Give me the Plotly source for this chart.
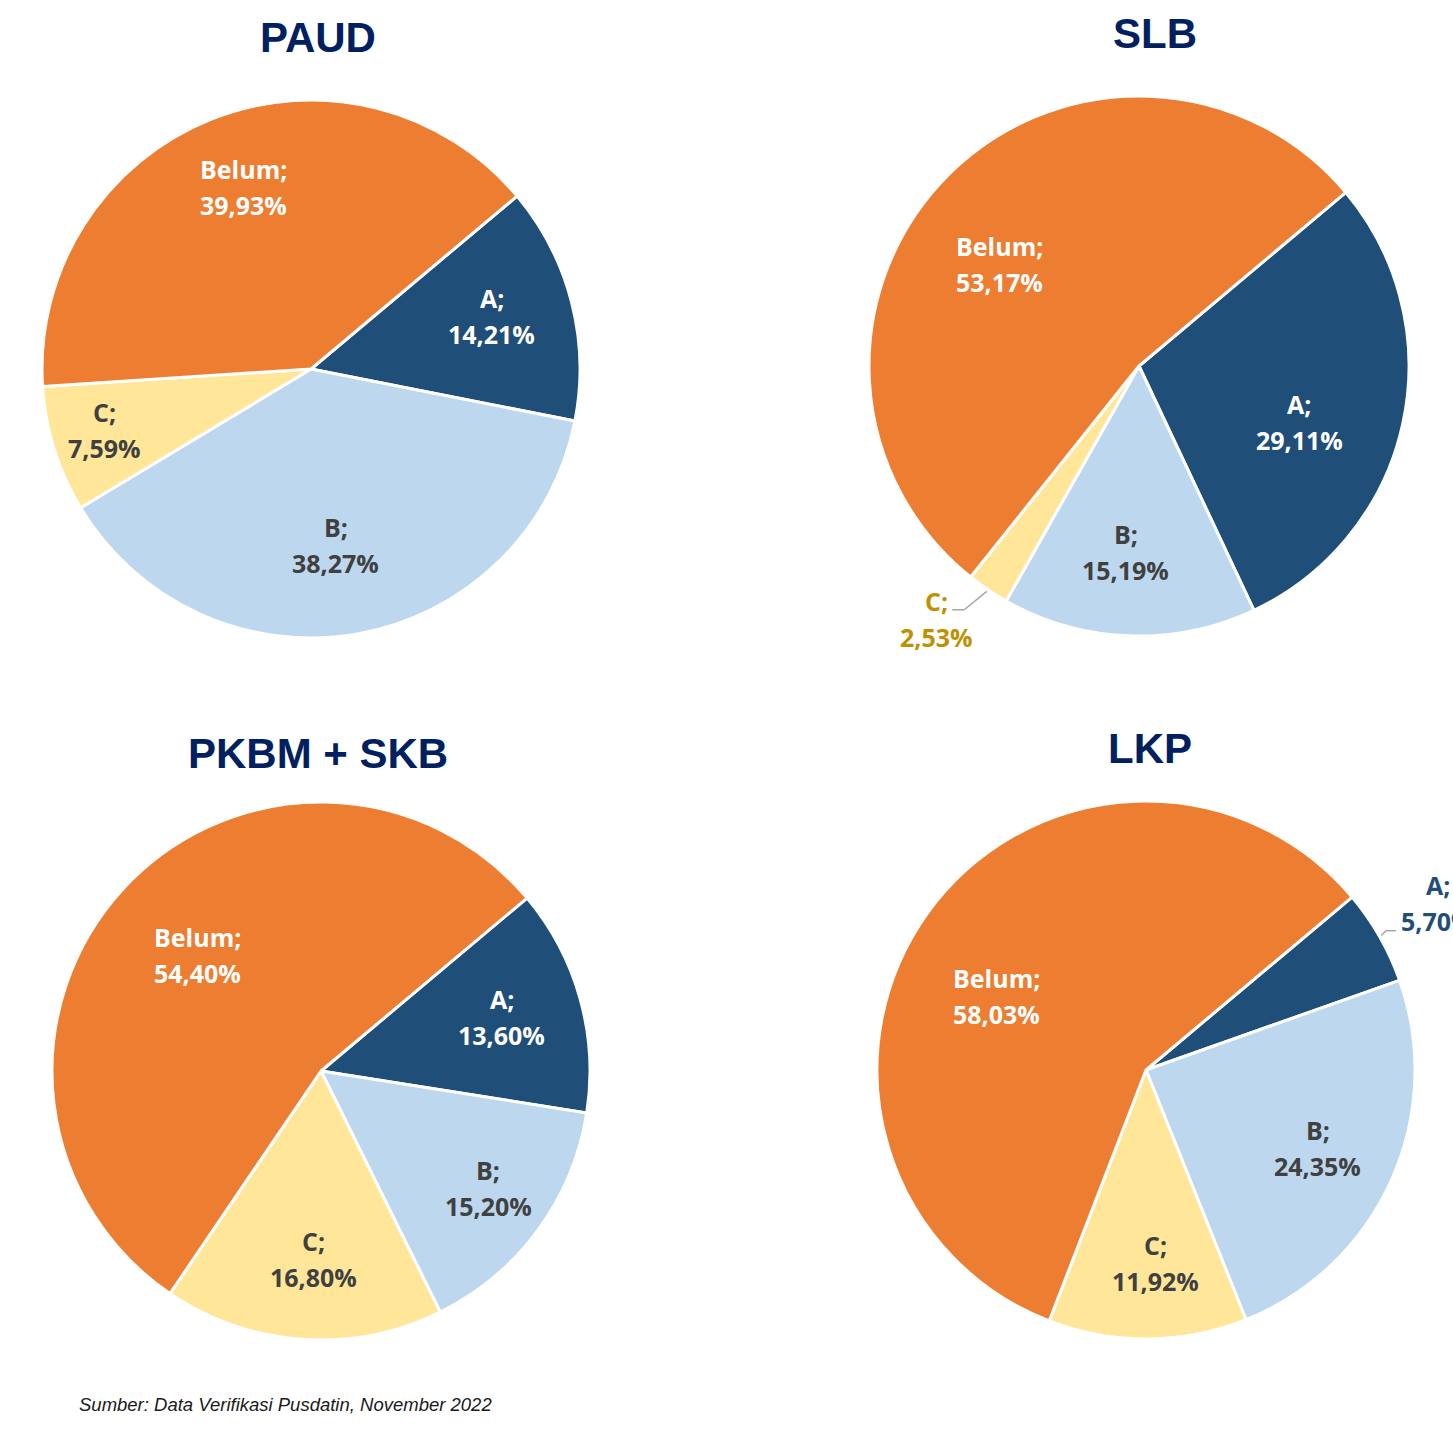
import math
import plotly.graph_objects as go

# ---------------- data ----------------
categories = ["A", "B", "C", "Belum"]
titles = ["PAUD", "SLB", "PKBM + SKB", "LKP"]
paud_values = [14.21, 38.27, 7.59, 39.93]
slb_values = [29.11, 15.19, 2.53, 53.17]
pkbm_values = [13.60, 15.20, 16.80, 54.40]
lkp_values = [5.70, 24.35, 11.92, 58.03]
source_note = "Sumber: Data Verifikasi Pusdatin, November 2022"

all_values = [paud_values, slb_values, pkbm_values, lkp_values]

# ---------------- style / layout ----------------
W, H = 1453, 1430
slice_colors = ["#1F4E79", "#BDD7EE", "#FFE699", "#ED7D31"]
label_colors = ["#FFFFFF", "#404040", "#404040", "#FFFFFF"]
title_color = "#002060"
label_font = "Open Sans"
label_size = 25
line_gap = 18  # half distance between the two lines of a label

# pie geometry in pixels: centre x, centre y, radius
geometry = [(311, 369, 269), (1139, 366, 270), (321, 1071, 269), (1146, 1070, 269)]
title_pos = [(318, 38), (1155, 33), (318, 753), (1150, 748)]
# label placement per slice: (radius fraction, angle offset deg)
label_place = [
    [(0.70, 2), (0.66, -2), (0.80, -1), (0.72, -1.6)],
    [(0.63, -7), (0.69, -2), (1.20, -4.7), (0.64, 8)],
    [(0.70, 1), (0.76, 1.3), (0.70, 1.5), (0.63, -1)],
    [(1.25, 0), (0.70, 0), (0.72, 2.3), (0.62, 9.2)],
]
# outside labels: (pie index, slice index) -> colour, leader offsets (elbow, end) from label centre
outside = {
    (1, 2): ("#BF9000", (28, -9), (16, -9)),
    (3, 0): ("#1F4E79", (-52, 27.5), (-42, 27.5)),
}
start_deg = 40.0  # angle of first slice edge measured counter-clockwise from 3 o'clock


def px(x):
    return x / W


def py(y):
    return 1 - y / H


fig = go.Figure()
annotations = []
shapes = []

for i, vals in enumerate(all_values):
    cx, cy, R = geometry[i]
    fig.add_trace(go.Pie(
        labels=categories,
        values=vals,
        sort=False,
        direction="clockwise",
        rotation=90 - start_deg,
        marker=dict(colors=slice_colors, line=dict(color="white", width=3)),
        textinfo="none",
        showlegend=False,
        domain=dict(x=[px(cx - R), px(cx + R)], y=[py(cy + R), py(cy - R)]),
    ))
    total = sum(vals)
    cum = 0.0
    for j, v in enumerate(vals):
        mid = start_deg - 360.0 * (cum + v / 2) / total
        cum += v
        f, off = label_place[i][j]
        ang = math.radians(mid + off)
        lx = cx + f * R * math.cos(ang)
        ly = cy - f * R * math.sin(ang)
        color = label_colors[j]
        if (i, j) in outside:
            color, elbow, end = outside[(i, j)]
            a0 = math.radians(mid)
            sx = cx + (R + 2) * math.cos(a0)
            sy = cy - (R + 2) * math.sin(a0)
            ex, ey = lx + elbow[0], ly + elbow[1]
            fx, fy = lx + end[0], ly + end[1]
            for (x0, y0, x1, y1) in [(sx, sy, ex, ey), (ex, ey, fx, fy)]:
                shapes.append(dict(type="line", xref="paper", yref="paper",
                                   x0=px(x0), y0=py(y0), x1=px(x1), y1=py(y1),
                                   line=dict(color="#A6A6A6", width=1.5)))
        pct = f"{v:.2f}".replace(".", ",") + "%"
        for text, dy in [(categories[j] + ";", -line_gap), (pct, line_gap)]:
            annotations.append(dict(
                x=px(lx), y=py(ly + dy), xref="paper", yref="paper",
                text=f"<b>{text}</b>", showarrow=False,
                xanchor="center", yanchor="middle",
                font=dict(family=label_font, size=label_size, color=color),
            ))
    tx, ty = title_pos[i]
    annotations.append(dict(
        x=px(tx), y=py(ty), xref="paper", yref="paper",
        text=f"<b>{titles[i]}</b>", showarrow=False,
        xanchor="center", yanchor="middle",
        font=dict(family="Liberation Sans, Arial", size=42, color=title_color),
    ))

annotations.append(dict(
    x=px(77), y=py(1404), xref="paper", yref="paper",
    text=f"<i>{source_note}</i>", showarrow=False,
    xanchor="left", yanchor="middle",
    font=dict(family="Liberation Sans, Arial", size=18.5, color="#1A1A1A"),
))

fig.update_layout(
    width=W, height=H,
    margin=dict(l=0, r=0, t=0, b=0),
    paper_bgcolor="white", plot_bgcolor="white",
    annotations=annotations, shapes=shapes,
)

fig.write_html("out.html", config={"displayModeBar": False},
               post_script="document.body.style.margin='0';")
